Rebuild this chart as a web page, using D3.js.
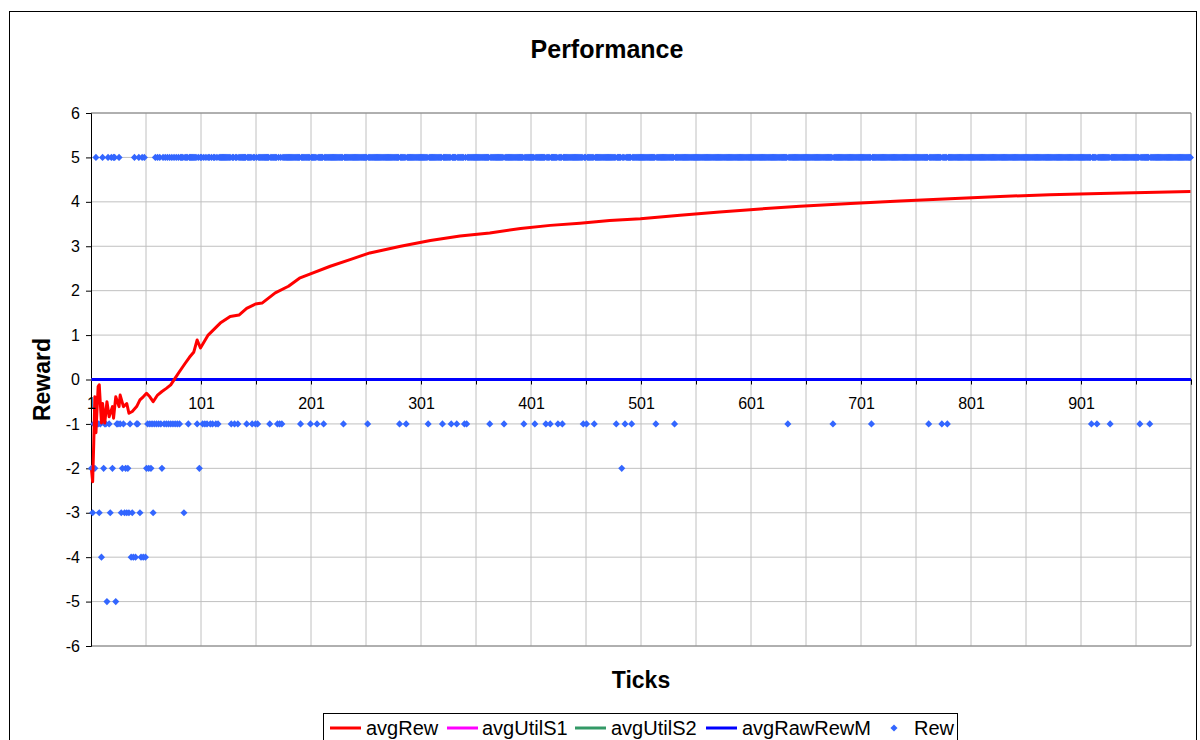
<!DOCTYPE html>
<html>
<head>
<meta charset="utf-8">
<script src="https://cdn.jsdelivr.net/npm/d3@7"></script>
<style>
  body { margin: 0; background: #fff; }
  svg text { font-family: "Liberation Sans", Arial, sans-serif; }
</style>
</head>
<body>
<div id="chart"></div>
<script>
// ticks run 1..1000, x axis labels every 100
const tickCount = 1000
const xLabels = ['1', '101', '201', '301', '401', '501', '601', '701', '801', '901']
const yTicks = [-6, -5, -4, -3, -2, -1, 0, 1, 2, 3, 4, 5, 6]

// Rew: 5 everywhere except the ticks listed below
const rewDefault = 5
const rewNeg1 = [3, 6, 7, 9, 13, 14, 17, 24, 25, 27, 30, 36, 42, 43, 52, 54, 56, 58, 60, 62, 64, 67, 69, 71,
  73, 75, 77, 79, 81, 89, 97, 102, 104, 106, 109, 111, 114, 116, 128, 131, 134, 142, 147, 150, 152, 163,
  170, 172, 174, 191, 200, 206, 212, 230, 252, 281, 287, 307, 320, 328, 333, 340, 342, 363, 376, 394,
  404, 414, 418, 425, 429, 448, 451, 458, 478, 486, 492, 514, 531, 634, 675, 710, 762, 774, 779, 910,
  915, 927, 954, 963]
const rewNeg2 = [1, 4, 12, 20, 29, 32, 34, 51, 53, 55, 65, 99, 483]
const rewNeg3 = [2, 8, 18, 28, 31, 33, 35, 38, 45, 57, 85]
const rewNeg4 = [10, 37, 39, 41, 46, 48, 50]
const rewNeg5 = [15, 23]

// avgRew (tick, value)
const avgRewTicks = [1, 2, 3, 4, 5, 7, 8, 10, 11, 13, 15, 17, 20, 21, 23, 26, 27, 30, 33, 35, 38, 42, 45, 48,
  51, 54, 57, 61, 65, 69, 73, 77, 81, 86, 90, 94, 97, 100, 107, 118, 127, 135, 142, 150, 156, 168, 180,
  190, 200, 218, 236, 254, 282, 309, 336, 363, 391, 418, 445, 472, 500, 536, 572, 609, 645, 691, 736,
  781, 827, 872, 918, 1000]
const avgRewValues = [-2.04, -2.3, -1.43, -0.39, -1.2, -0.16, -0.12, -0.98, -0.54, -0.98, -0.5, -0.84, -0.61,
  -0.87, -0.39, -0.61, -0.35, -0.61, -0.54, -0.76, -0.72, -0.61, -0.46, -0.39, -0.31, -0.39, -0.5, -0.35,
  -0.27, -0.2, -0.12, 0.03, 0.18, 0.36, 0.5, 0.62, 0.89, 0.71, 1.0, 1.27, 1.42, 1.45, 1.6, 1.7, 1.72, 1.95,
  2.1, 2.28, 2.38, 2.55, 2.7, 2.85, 3.0, 3.13, 3.23, 3.3, 3.4, 3.47, 3.52, 3.58, 3.62, 3.7, 3.77, 3.84,
  3.9, 3.96, 4.02, 4.07, 4.12, 4.16, 4.19, 4.23]

// flat series
const avgUtilS1 = 0
const avgUtilS2 = 0
const avgRawRewM = 0

const legendItems = [
  { name: 'avgRew', color: '#ff0000', type: 'line' },
  { name: 'avgUtilS1', color: '#ff00ff', type: 'line' },
  { name: 'avgUtilS2', color: '#339966', type: 'line' },
  { name: 'avgRawRewM', color: '#0000ff', type: 'line' },
  { name: 'Rew', color: '#3366ff', type: 'dot' }
]

const width = 1200, height = 740
const svg = d3.select('#chart').append('svg').attr('width', width).attr('height', height)

// outer chart frame
svg.append('rect').attr('x', 9.5).attr('y', 11.5).attr('width', 1187).attr('height', 760)
  .attr('fill', 'none').attr('stroke', '#000')

const plotLeft = 91, plotRight = 1191, plotTop = 113, plotBottom = 646
const x = d3.scaleLinear().domain([0, tickCount]).range([plotLeft, plotRight])
const y = d3.scaleLinear().domain([-6, 6]).range([plotBottom, plotTop])
const xc = t => x(t - 0.5)

// gridlines
const g = svg.append('g')
g.selectAll('.hg').data(yTicks).enter().append('line')
  .attr('x1', plotLeft).attr('x2', plotRight)
  .attr('y1', d => y(d)).attr('y2', d => y(d))
  .attr('stroke', '#c0c0c0')
g.selectAll('.vg').data(d3.range(50, tickCount + 1, 50)).enter().append('line')
  .attr('x1', d => x(d)).attr('x2', d => x(d))
  .attr('y1', plotTop).attr('y2', plotBottom)
  .attr('stroke', d => d === tickCount ? '#808080' : '#c0c0c0')
svg.append('line').attr('x1', plotLeft).attr('x2', plotRight).attr('y1', plotTop).attr('y2', plotTop).attr('stroke', '#808080')
svg.append('line').attr('x1', plotLeft).attr('x2', plotRight).attr('y1', plotBottom).attr('y2', plotBottom).attr('stroke', '#808080')

// y axis
const yAxis = d3.axisLeft(y).tickValues(yTicks).tickSize(5).tickPadding(6).tickFormat(d => String(d))
const ya = svg.append('g').attr('transform', `translate(${plotLeft},0)`).call(yAxis)
ya.select('.domain').attr('stroke', '#000')
ya.selectAll('.tick line').attr('stroke', '#000')
ya.selectAll('text').style('font-size', '16px').attr('fill', '#000')
  .style('font-family', '"Liberation Sans", Arial, sans-serif')

// x axis across zero
const xAxis = d3.axisBottom(x).tickValues(d3.range(0, tickCount + 1, 50)).tickSize(5).tickFormat('')
const xa = svg.append('g').attr('transform', `translate(0,${y(0)})`).call(xAxis)
xa.select('.domain').attr('stroke', '#000')
xa.selectAll('.tick line').attr('stroke', '#000')

// Rew points
const rewData = d3.range(1, tickCount + 1).map(t => {
  let v = rewDefault
  if (rewNeg1.includes(t)) v = -1
  if (rewNeg2.includes(t)) v = -2
  if (rewNeg3.includes(t)) v = -3
  if (rewNeg4.includes(t)) v = -4
  if (rewNeg5.includes(t)) v = -5
  return { t, v }
})

const diamond = d3.symbol().type(d3.symbolDiamond2).size(32)
svg.append('g').selectAll('path').data(rewData).enter().append('path')
  .attr('d', diamond)
  .attr('transform', d => `translate(${xc(d.t)},${y(d.v)})`)
  .attr('fill', '#3366ff')

// flat lines
const flat = [{ v: avgUtilS1, c: '#ff00ff' }, { v: avgUtilS2, c: '#339966' }, { v: avgRawRewM, c: '#0000ff' }]
svg.append('g').selectAll('line').data(flat).enter().append('line')
  .attr('x1', xc(1)).attr('x2', plotRight)
  .attr('y1', d => y(d.v)).attr('y2', d => y(d.v))
  .attr('stroke', d => d.c).attr('stroke-width', 3)

// avgRew line
const avgRew = avgRewTicks.map((t, i) => ({ t, v: avgRewValues[i] }))
const line = d3.line().x(d => xc(d.t)).y(d => y(d.v))
svg.append('path').datum(avgRew).attr('d', line)
  .attr('fill', 'none').attr('stroke', '#ff0000').attr('stroke-width', 3).attr('stroke-linejoin', 'round')

// x tick labels, drawn below the zero line
svg.append('g').selectAll('text').data(xLabels).enter().append('text')
  .attr('x', d => xc(+d)).attr('y', y(0) + 29)
  .attr('text-anchor', 'middle').style('font-size', '16px')
  .text(d => d)

// titles
svg.append('text').attr('x', 607).attr('y', 58).attr('text-anchor', 'middle')
  .style('font-size', '25px').style('font-weight', 'bold').text('Performance')
svg.append('text').attr('x', 641).attr('y', 688).attr('text-anchor', 'middle')
  .style('font-size', '23px').style('font-weight', 'bold').text('Ticks')
svg.append('text').attr('transform', `translate(50,${y(0)}) rotate(-90)`).attr('text-anchor', 'middle')
  .style('font-size', '23px').style('font-weight', 'bold').text('Reward')

// legend
const lg = svg.append('g')
lg.append('rect').attr('x', 323.5).attr('y', 713.5).attr('width', 634).attr('height', 40)
  .attr('fill', '#fff').attr('stroke', '#000')
const legendKeyX = [330, 447, 575, 706, 894]
const legendTextX = [366, 482, 611, 742, 914]
legendItems.forEach((d, i) => {
  const lx = legendKeyX[i]
  if (d.type === 'line') {
    lg.append('line').attr('x1', lx).attr('x2', lx + 31).attr('y1', 728).attr('y2', 728)
      .attr('stroke', d.color).attr('stroke-width', 3)
  } else {
    lg.append('path').attr('d', diamond).attr('transform', `translate(${lx},728)`).attr('fill', d.color)
  }
  lg.append('text').attr('x', legendTextX[i]).attr('y', 735)
    .style('font-size', '20px').text(d.name)
})
</script>
</body>
</html>
